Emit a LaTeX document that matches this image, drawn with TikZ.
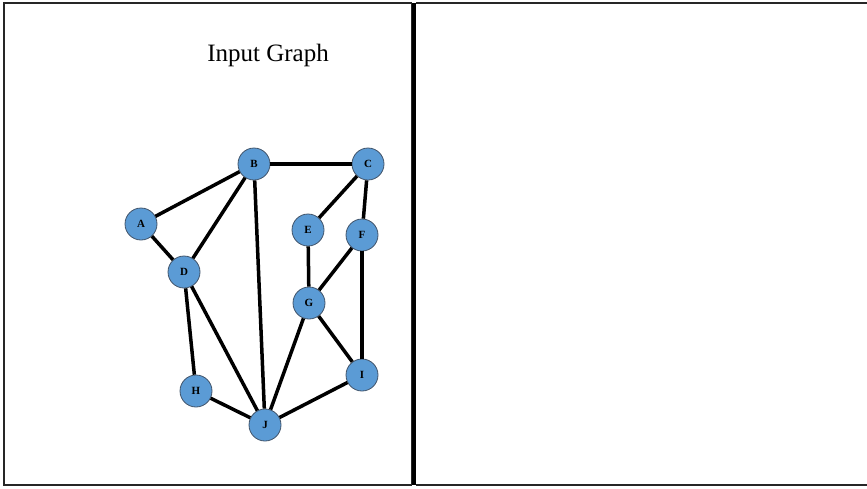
\documentclass[tikz,border=0pt]{standalone}
\usepackage{fontspec}
\setmainfont{Liberation Serif}
\definecolor{nodeblue}{HTML}{5B9BD5}
\definecolor{nodeedge}{HTML}{41546A}
\begin{document}
\begin{tikzpicture}[x=1pt,y=-1pt,
  vtx/.style={circle,draw=nodeedge,line width=0.8pt,fill=nodeblue,minimum size=32pt,inner sep=0pt,font=\fontsize{11}{11}\selectfont\bfseries},
  edge/.style={line width=3.5pt,black},
  frame/.style={draw=black!85,line width=1.5pt}]
\useasboundingbox (0,0) rectangle (867,488);
\draw[frame] (4,3) rectangle (411.5,485);
\draw[frame] (416,3) -- (870,3);
\draw[frame] (416,485) -- (870,485);
\draw[line width=4.5pt] (414,3) -- (414,485);
\node[font=\fontsize{25}{25}\selectfont] (title) at (268,55) {Input Graph};
\node[vtx] (B) at (254,164) {B};
\node[vtx] (C) at (368,164) {C};
\node[vtx] (A) at (141,224) {A};
\node[vtx] (D) at (184,272) {D};
\node[vtx] (E) at (308,230) {E};
\node[vtx] (F) at (362,235) {F};
\node[vtx] (G) at (309,303) {G};
\node[vtx] (H) at (196,391) {H};
\node[vtx] (I) at (362,375) {I};
\node[vtx] (J) at (265,425) {J};
\foreach \u/\v in {A/B,A/D,B/D,B/C,B/J,C/E,C/F,E/G,F/G,F/I,D/H,D/J,G/J,G/I,H/J,I/J}
  \draw[edge] (\u) -- (\v);
\end{tikzpicture}
\end{document}
